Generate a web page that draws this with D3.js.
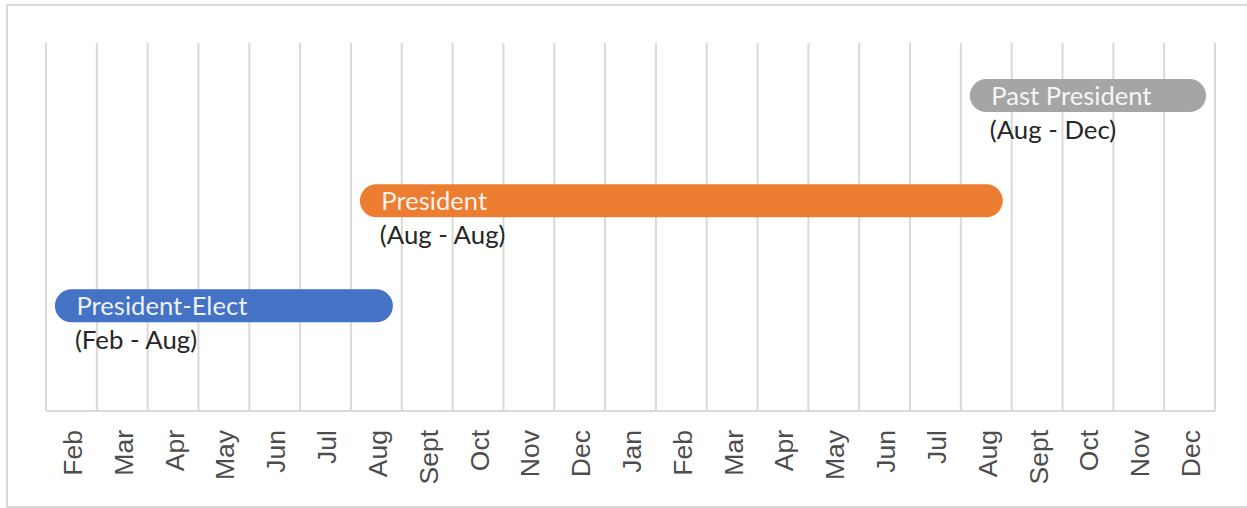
<!DOCTYPE html>
<html>
<head>
<meta charset="utf-8">
<script src="https://cdn.jsdelivr.net/npm/d3@7"></script>
<style>
  html, body { margin: 0; padding: 0; background: #fff; }
  svg { display: block; }
</style>
</head>
<body>
<svg id="chart" width="1247" height="508"></svg>
<script>
const months = ["Feb","Mar","Apr","May","Jun","Jul","Aug","Sept","Oct","Nov","Dec","Jan",
                "Feb","Mar","Apr","May","Jun","Jul","Aug","Sept","Oct","Nov","Dec"];
const roles = ["President-Elect", "President", "Past President"];
const roleStart = [0, 6, 18];   // month index
const roleEnd = [6, 18, 22];    // month index
const roleRow = [1, 2, 3];
const roleSpan = ["(Feb - Aug)", "(Aug - Aug)", "(Aug - Dec)"];
const roleColors = ["#4472C4", "#ED7D31", "#A5A5A5"];

(function () {
const svg = d3.select("#chart");
const W = 1247, H = 508;
const pLeft = 46, pRight = 1215, pTop = 43, pBottom = 411;

// frame
svg.append("rect")
  .attr("x", 7).attr("y", 5).attr("width", W + 10).attr("height", 502)
  .attr("fill", "#fff").attr("stroke", "#d9d9d9").attr("stroke-width", 2);

const idx = months.map((d, i) => i);
const x = d3.scaleBand().domain(idx).range([pLeft, pRight]).paddingInner(0).paddingOuter(0);
const y = d3.scaleLinear().domain([0, 3.5]).range([pBottom, pTop]);
const bw = x.bandwidth();

// vertical gridlines at band edges
const edges = idx.map(i => x(i)).concat([pRight]);
svg.append("g").selectAll("line").data(edges).join("line")
  .attr("x1", d => d).attr("x2", d => d)
  .attr("y1", pTop).attr("y2", pBottom)
  .attr("stroke", "#d9d9d9").attr("stroke-width", 2);

// baseline
svg.append("line")
  .attr("x1", pLeft).attr("x2", pRight).attr("y1", pBottom).attr("y2", pBottom)
  .attr("stroke", "#d9d9d9").attr("stroke-width", 2);

// axis labels
const axis = d3.axisBottom(x).tickSize(0).tickFormat(i => months[i]);
const gAxis = svg.append("g").attr("transform", `translate(0,${pBottom})`).call(axis);
gAxis.select(".domain").remove();
gAxis.selectAll("text")
  .attr("font-family", "'Liberation Sans', Arial, sans-serif")
  .attr("font-size", 26.5)
  .attr("fill", "#4d4d4d")
  .attr("text-anchor", "end")
  .attr("dy", null)
  .attr("y", 0)
  .attr("transform", "translate(10.5,19) rotate(-90)");

// bars
const data = roles.map((r, i) => ({
  name: r, s: roleStart[i], e: roleEnd[i], row: roleRow[i], span: roleSpan[i], color: roleColors[i]
}));

const g = svg.append("g");
g.selectAll("line.bar").data(data).join("line")
  .attr("class", "bar")
  .attr("x1", d => x(d.s) + bw / 2)
  .attr("x2", d => x(d.e) + bw / 2)
  .attr("y1", d => y(d.row)).attr("y2", d => y(d.row))
  .attr("stroke", d => d.color)
  .attr("stroke-width", 33)
  .attr("stroke-linecap", "round");

g.selectAll("text.name").data(data).join("text")
  .attr("class", "name")
  .attr("x", d => x(d.s) + bw / 2 + 5)
  .attr("y", d => y(d.row) + 9)
  .attr("font-family", "Lato, 'Open Sans', sans-serif")
  .attr("font-size", 25.6)
  .attr("fill", "#ffffff")
  .attr("fill-opacity", 0.92)
  .text(d => d.name);

g.selectAll("text.span").data(data).join("text")
  .attr("class", "span")
  .attr("x", d => x(d.s) + bw / 2 + 3.5)
  .attr("y", d => y(d.row) + 43)
  .attr("font-family", "Lato, 'Open Sans', sans-serif")
  .attr("font-size", 25.8)
  .attr("fill", "#262626")
  .text(d => d.span);
})();
</script>
</body>
</html>
